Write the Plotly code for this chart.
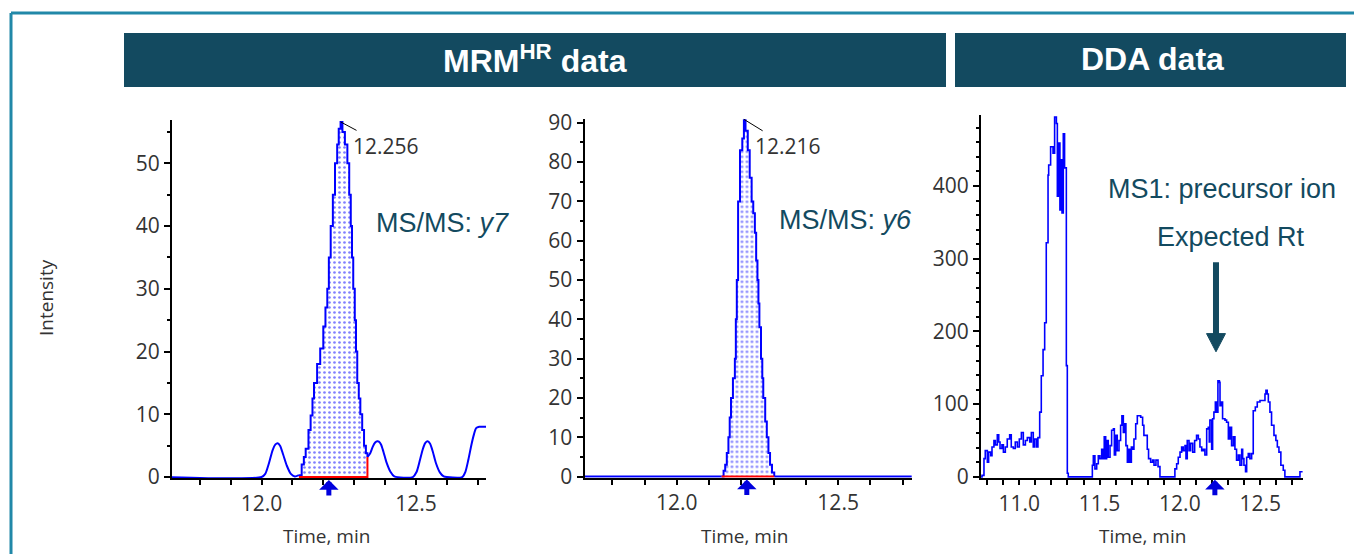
import plotly.graph_objects as go

W, H = 1354, 554

# ---------------- Panel 1: MRM-HR, MS/MS y7 ----------------
p1_pre_time = [11.70, 12.000, 12.012, 12.024, 12.036, 12.045, 12.052, 12.060, 12.070, 12.082, 12.095, 12.108, 12.121]
p1_pre_int = [0, 0, 0.5, 2.2, 4.3, 5.2, 5.4, 5.0, 3.6, 1.8, 0.5, 0.1, 0.3]
p1_peak_time = [12.121, 12.130, 12.137, 12.143, 12.152, 12.159, 12.165, 12.170, 12.180, 12.190, 12.200, 12.207,
                12.213, 12.218, 12.224, 12.231, 12.238, 12.245, 12.250, 12.256, 12.262, 12.270, 12.278, 12.284,
                12.289, 12.293, 12.297, 12.302, 12.306, 12.310, 12.315, 12.320, 12.326, 12.332, 12.338, 12.343]
p1_peak_int = [0.3, 2, 3.2, 4.5, 7.5, 9.8, 12.5, 15, 18, 20.5, 24, 27,
               30, 35, 40, 45, 50, 53, 55.5, 56.6, 55, 53, 50, 45,
               40, 35, 30, 25, 20, 15, 12.5, 10, 7.5, 5, 3.8, 3.2]
p1_post_time = [12.343, 12.352, 12.360, 12.368, 12.375, 12.380, 12.387, 12.395, 12.405, 12.418, 12.430, 12.490,
                12.502, 12.512, 12.522, 12.530, 12.538, 12.546, 12.555, 12.565, 12.578, 12.590, 12.600, 12.650,
                12.660, 12.670, 12.680, 12.688, 12.695, 12.705, 12.730]
p1_post_int = [3.2, 3.8, 4.8, 5.5, 5.7, 5.65, 5.2, 4.0, 2.3, 0.8, 0.1, 0,
               0.8, 2.5, 4.4, 5.4, 5.7, 5.3, 4.0, 2.2, 0.7, 0.1, 0, 0,
               0.8, 2.8, 5.2, 6.8, 7.8, 8.0, 8.0]
p1_apex_time, p1_apex_int, p1_apex_label = 12.256, 56.6, "12.256"
p1_expected_rt = 12.218

# ---------------- Panel 2: MRM-HR, MS/MS y6 ----------------
p2_pre_time = [11.70, 12.139]
p2_pre_int = [0, 0]
p2_peak_time = [12.139, 12.145, 12.150, 12.155, 12.160, 12.164, 12.168, 12.174, 12.180, 12.183, 12.186, 12.190,
                12.196, 12.203, 12.208, 12.213, 12.220, 12.226, 12.232, 12.237, 12.242, 12.246, 12.250, 12.253,
                12.256, 12.261, 12.265, 12.268, 12.274, 12.279, 12.284, 12.289, 12.295, 12.302]
p2_peak_int = [0, 1.5, 3, 6, 10, 15, 20, 25, 30, 40, 50, 70,
               83, 86, 90.9, 88, 83, 76, 70, 67, 62, 55, 50, 44,
               38, 30, 25, 20, 14, 10, 6, 3, 1, 0]
p2_post_time = [12.302, 12.740]
p2_post_int = [0, 0]
p2_apex_time, p2_apex_int, p2_apex_label = 12.208, 90.9, "12.216"
p2_expected_rt = 12.217

# ---------------- Panel 3: DDA, MS1 precursor ----------------
p3_time = [10.762, 10.768, 10.780, 10.788, 10.801, 10.809, 10.822, 10.830, 10.842, 10.851,
           10.863, 10.872, 10.880, 10.892, 10.901, 10.913, 10.925, 10.940, 10.950, 10.963,
           10.975, 10.988, 11.000, 11.013, 11.025, 11.038, 11.050, 11.065, 11.075, 11.087,
           11.096, 11.108, 11.116, 11.127, 11.137, 11.148, 11.158, 11.168, 11.179, 11.183,
           11.195, 11.210, 11.220, 11.231, 11.237, 11.245, 11.253, 11.262, 11.266, 11.274,
           11.282, 11.293, 11.299, 11.305, 11.449, 11.455, 11.461, 11.471, 11.482, 11.492,
           11.502, 11.513, 11.523, 11.529, 11.538, 11.544, 11.554, 11.565, 11.575, 11.586,
           11.592, 11.600, 11.610, 11.621, 11.631, 11.639, 11.648, 11.658, 11.664, 11.673,
           11.681, 11.689, 11.698, 11.706, 11.714, 11.725, 11.735, 11.747, 11.756, 11.768,
           11.776, 11.785, 11.797, 11.805, 11.818, 11.830, 11.839, 11.851, 11.864, 11.876,
           11.959, 11.969, 11.980, 11.990, 12.001, 12.011, 12.021, 12.032, 12.038, 12.046,
           12.057, 12.067, 12.080, 12.092, 12.104, 12.115, 12.125, 12.136, 12.146, 12.156,
           12.167, 12.177, 12.183, 12.187, 12.198, 12.204, 12.212, 12.221, 12.229, 12.237,
           12.246, 12.250, 12.258, 12.266, 12.281, 12.291, 12.302, 12.312, 12.322, 12.333,
           12.343, 12.353, 12.364, 12.374, 12.385, 12.391, 12.399, 12.409, 12.416, 12.426,
           12.436, 12.447, 12.457, 12.470, 12.482, 12.499, 12.519, 12.530, 12.536, 12.544,
           12.551, 12.561, 12.571, 12.586, 12.598, 12.607, 12.617, 12.629, 12.644, 12.654,
           12.737, 12.748, 12.766]
p3_int = [0, 2, 25, 36, 20, 34, 29, 41, 50, 44,
          58, 48, 39, 44, 34, 41, 52, 58, 41, 39,
          48, 41, 52, 61, 44, 50, 54, 48, 61, 41,
          52, 41, 54, 89, 139, 175, 212, 322, 415, 429,
          454, 445, 495, 486, 386, 459, 367, 436, 363, 472,
          425, 153, 5, 0, 0, 16, 29, 11, 18, 29,
          25, 38, 25, 55, 25, 50, 27, 43, 64, 66,
          30, 57, 36, 50, 71, 84, 61, 73, 43, 20,
          38, 20, 41, 38, 52, 73, 84, 84, 82, 71,
          57, 57, 38, 25, 20, 23, 16, 23, 14, 0,
          0, 11, 18, 27, 34, 41, 36, 43, 25, 50,
          36, 46, 34, 50, 57, 52, 41, 36, 38, 30,
          66, 68, 48, 78, 38, 80, 89, 103, 89, 132,
          130, 98, 103, 80, 78, 75, 52, 68, 43, 55,
          38, 23, 30, 16, 38, 25, 16, 7, 27, 32,
          25, 32, 91, 96, 103, 105, 105, 114, 119, 114,
          103, 89, 71, 57, 50, 41, 34, 16, 9, 0,
          0, 7, 7]
p3_expected_rt = 12.218
assert len(p3_time) == len(p3_int)

# ---------------- Styling ----------------
BLUE = "#0000ff"
RED = "#ff0000"
TEAL = "#134a60"
FRAME = "#2188a8"
TXT = "#333333"
TICKFONT = dict(family="Open Sans", size=21, color=TXT)


def px(x):
    return x / W


def py(y):
    return 1 - y / H


fig = go.Figure()

panels = [
    ("x", "y", p1_pre_time, p1_pre_int, p1_peak_time, p1_peak_int, p1_post_time, p1_post_int),
    ("x2", "y2", p2_pre_time, p2_pre_int, p2_peak_time, p2_peak_int, p2_post_time, p2_post_int),
]
for xa, ya, pre_t, pre_v, pk_t, pk_v, post_t, post_v in panels:
    # integrated (shaded) area
    fig.add_trace(go.Scatter(x=pk_t, y=pk_v, xaxis=xa, yaxis=ya, mode="lines", line_shape="hv",
                             line=dict(width=0, color=BLUE), fill="tozeroy",
                             fillpattern=dict(shape=".", fgcolor=BLUE, bgcolor="white", size=5, solidity=0.22)))
    fig.add_trace(go.Scatter(x=pre_t, y=pre_v, xaxis=xa, yaxis=ya, mode="lines",
                             line=dict(color=BLUE, width=2, shape="spline", smoothing=0.7)))
    fig.add_trace(go.Scatter(x=pk_t, y=pk_v, xaxis=xa, yaxis=ya, mode="lines",
                             line=dict(color=BLUE, width=2, shape="hv")))
    fig.add_trace(go.Scatter(x=post_t, y=post_v, xaxis=xa, yaxis=ya, mode="lines",
                             line=dict(color=BLUE, width=2, shape="spline", smoothing=0.7)))
    # integration baseline
    fig.add_trace(go.Scatter(x=[pk_t[0], pk_t[-1], pk_t[-1]], y=[0, 0, pk_v[-1]], xaxis=xa, yaxis=ya,
                             mode="lines", line=dict(color=RED, width=2)))

fig.add_trace(go.Scatter(x=p3_time, y=p3_int, xaxis="x3", yaxis="y3", mode="lines",
                         line=dict(color=BLUE, width=1.6, shape="hv")))


def xaxis_cfg(dom, rng, dtick, tick0):
    return dict(domain=dom, range=rng, showline=True, linecolor="black", linewidth=2, mirror=False,
                ticks="outside", ticklen=5, tickwidth=1.5, tickcolor="black",
                dtick=dtick, tick0=tick0, tickformat=".1f", tickfont=TICKFONT, automargin=False,
                minor=dict(dtick=0.1, tick0=tick0, ticks="outside", ticklen=5, tickwidth=1.5, tickcolor="black"),
                showgrid=False, zeroline=False, fixedrange=True)


def yaxis_cfg(dom, rng, dtick, mdtick):
    return dict(domain=dom, range=rng, showline=True, linecolor="black", linewidth=2,
                ticks="outside", ticklen=6, tickwidth=1.5, tickcolor="black",
                dtick=dtick, tick0=0, tickfont=TICKFONT, automargin=False,
                minor=dict(dtick=mdtick, tick0=0, ticks="outside", ticklen=3, tickwidth=1.5, tickcolor="black"),
                showgrid=False, zeroline=False, fixedrange=True)


fig.update_layout(
    width=W, height=H, margin=dict(l=0, r=0, t=0, b=0, pad=0, autoexpand=False),
    paper_bgcolor="white", plot_bgcolor="white", showlegend=False,
    xaxis=dict(**xaxis_cfg([px(172), px(486)], [11.710, 12.727], 0.5, 12.0), anchor="y"),
    yaxis=dict(**yaxis_cfg([py(478.3), py(120)], [-0.2, 56.9], 10, 5), anchor="x"),
    xaxis2=dict(**xaxis_cfg([px(584.5), px(911.7)], [11.714, 12.728], 0.5, 12.0), anchor="y2"),
    yaxis2=dict(**yaxis_cfg([py(477.7), py(119.3)], [-0.3, 90.9], 10, 5), anchor="x2"),
    xaxis3=dict(**xaxis_cfg([px(981), px(1302.7)], [10.7615, 12.765], 0.5, 11.0), anchor="y3"),
    yaxis3=dict(**yaxis_cfg([py(478.3), py(115)], [-2, 497.7], 100, 20), anchor="x3"),
)

shapes = [
    # outer frame (top and left edges)
    dict(type="line", xref="paper", yref="paper", x0=px(11), x1=1.01, y0=py(13), y1=py(13),
         line=dict(color=FRAME, width=3)),
    dict(type="line", xref="paper", yref="paper", x0=px(11), x1=px(11), y0=py(13), y1=-0.01,
         line=dict(color=FRAME, width=3)),
    # header bars
    dict(type="rect", xref="paper", yref="paper", x0=px(124), x1=px(946), y0=py(87), y1=py(33),
         fillcolor=TEAL, line=dict(width=0)),
    dict(type="rect", xref="paper", yref="paper", x0=px(955), x1=px(1346), y0=py(87), y1=py(33),
         fillcolor=TEAL, line=dict(width=0)),
    # expected-Rt arrow (shaft + head) in DDA panel
    dict(type="line", xref="x3", yref="y3", x0=12.225, x1=12.225, y0=295, y1=195,
         line=dict(color=TEAL, width=6)),
    dict(type="path", xref="x3", yref="y3", path="M 12.166,197 L 12.284,197 L 12.225,172 Z",
         fillcolor=TEAL, line=dict(color=TEAL, width=1)),
]
fig.update_layout(shapes=shapes)


def ptext(x, y, text, font, **kw):
    d = dict(xref="paper", yref="paper", x=px(x), y=py(y), showarrow=False, text=text, font=font,
             xanchor="center", yanchor="middle")
    d.update(kw)
    return d


ann = []
HEADFONT = dict(family="Liberation Sans", size=32, color="white")
LBLFONT = dict(family="Liberation Sans", size=27, color=TEAL)
ann.append(ptext(535, 59, "<b>MRM<sup>HR</sup> data</b>", HEADFONT))
ann.append(ptext(1152, 59, "<b>DDA data</b>", HEADFONT))
ann.append(ptext(46, 298, "Intensity", dict(family="Open Sans", size=19, color=TXT), textangle=-90))
for cx in (326, 744, 1142):
    ann.append(ptext(cx, 536, "Time, min", dict(family="Open Sans", size=19, color=TXT)))
ann.append(ptext(442, 223, "MS/MS: <i>y7</i>", LBLFONT))
ann.append(ptext(845, 220, "MS/MS: <i>y6</i>", LBLFONT))
ann.append(ptext(1222, 189, "MS1: precursor ion", LBLFONT))
ann.append(ptext(1231, 237, "Expected Rt", LBLFONT))

# apex labels with leader lines
ann.append(dict(xref="x", yref="y", x=p1_apex_time, y=p1_apex_int, ax=45, ay=24, text=p1_apex_label,
                showarrow=True, arrowhead=0, arrowwidth=1, arrowcolor="black",
                font=dict(family="Open Sans", size=21, color=TXT)))
ann.append(dict(xref="x2", yref="y2", x=p2_apex_time, y=p2_apex_int, ax=44, ay=27, text=p2_apex_label,
                showarrow=True, arrowhead=0, arrowwidth=1, arrowcolor="black",
                font=dict(family="Open Sans", size=21, color=TXT)))
# expected-Rt markers below x axes
for xa, ya, rt in (("x", "y", p1_expected_rt), ("x2", "y2", p2_expected_rt), ("x3", "y3", p3_expected_rt)):
    ann.append(dict(xref=xa, yref=ya, x=rt, y=0, ax=0, ay=20, text="", showarrow=True,
                    arrowhead=1, arrowsize=0.65, arrowwidth=5, arrowcolor="#0000dd", standoff=3))
fig.update_layout(annotations=ann)

fig.write_html("out.html", config={"displayModeBar": False},
               post_script="document.body.style.margin='0';document.body.style.overflow='hidden';")
